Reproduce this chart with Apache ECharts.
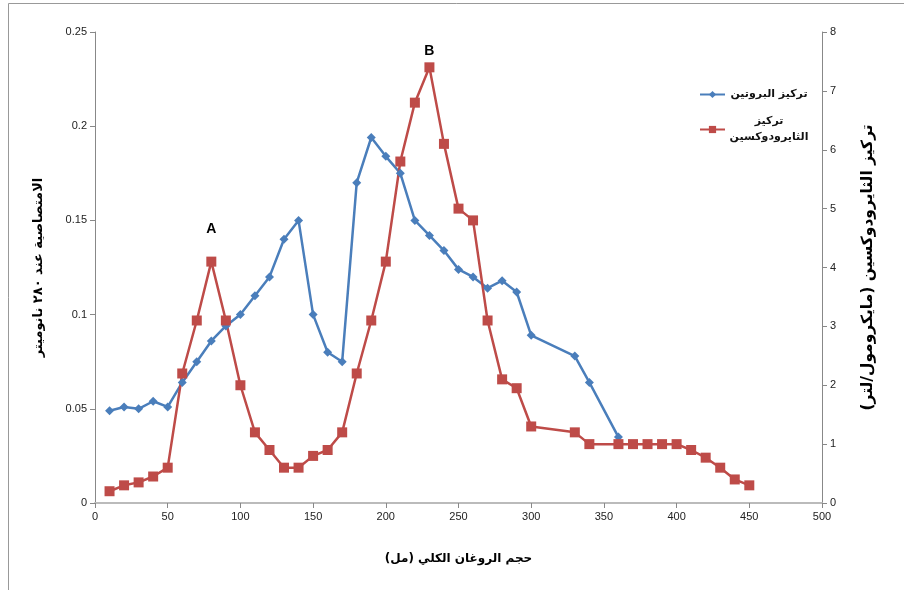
<!DOCTYPE html>
<html>
<head>
    <meta charset="utf-8" />
    <title></title>
    <script src="https://cdn.jsdelivr.net/npm/echarts@6/dist/echarts.min.js"></script>
</head>
<body style="margin:0;background:#fff;">
    <div id="chart" style="width:904px;height:590px;"></div>
    <script>
        // حجم الروغان (مل)
        var proteinVolume = [10, 20, 30, 40, 50, 60, 70, 80, 90, 100, 110, 120, 130, 140, 150, 160, 170, 180, 190, 200,
            210, 220, 230, 240, 250, 260, 270, 280, 290, 300, 330, 340, 360];
        var proteinValues = [0.049, 0.051, 0.050, 0.054, 0.051, 0.064, 0.075, 0.086, 0.094, 0.100, 0.110, 0.120, 0.140, 0.150,
            0.100, 0.080, 0.075, 0.170, 0.194, 0.184, 0.175, 0.150, 0.142, 0.134, 0.124, 0.120, 0.114, 0.118, 0.112,
            0.089, 0.078, 0.064, 0.035];

        var trxVolume = [10, 20, 30, 40, 50, 60, 70, 80, 90, 100, 110, 120, 130, 140, 150, 160, 170, 180, 190, 200,
            210, 220, 230, 240, 250, 260, 270, 280, 290, 300, 330, 340, 360, 370, 380, 390, 400, 410, 420, 430, 440, 450];
        var trxValues = [0.2, 0.3, 0.35, 0.45, 0.6, 2.2, 3.1, 4.1, 3.1, 2.0, 1.2, 0.9, 0.6, 0.6, 0.8, 0.9, 1.2, 2.2, 3.1, 4.1,
            5.8, 6.8, 7.4, 6.1, 5.0, 4.8, 3.1, 2.1, 1.95, 1.3, 1.2, 1.0, 1.0, 1.0, 1.0, 1.0, 1.0, 0.9, 0.77, 0.6, 0.4, 0.3];

        // القمم
        var peakVolume = [80, 230];
        var peakNames = ['A', 'B'];

        var proteinName = 'تركيز البروتين';
        var trxName = 'تركيز\nالثايرودوكسين';

        var arFont = 'DejaVu Sans';
        var numFont = 'Liberation Sans';

        var proteinData = proteinVolume.map(function (v, i) { return [v, proteinValues[i]]; });
        var trxData = trxVolume.map(function (v, i) {
            var k = peakVolume.indexOf(v);
            if (k < 0) return [v, trxValues[i]];
            return {
                value: [v, trxValues[i]],
                label: {
                    show: true, formatter: peakNames[k], position: 'top',
                    distance: k === 0 ? 20 : 4,
                    color: '#000', fontWeight: 'bold', fontSize: 14, fontFamily: numFont
                }
            };
        });

        var myChart = echarts.init(document.getElementById('chart'));
        var axisLabel = { color: '#222', fontSize: 11, fontFamily: numFont };
        var option = {
            animation: false,
            backgroundColor: '#fff',
            graphic: [{
                type: 'rect', left: 6, top: 1,
                shape: { width: 960, height: 640 },
                style: { fill: 'none', stroke: '#999', lineWidth: 1 },
                silent: true
            }],
            grid: { left: 95, right: 82, top: 32, bottom: 87 },
            legend: {
                orient: 'vertical', left: 694, top: 84, itemGap: 16,
                itemWidth: 25, itemHeight: 9,
                data: [proteinName, trxName],
                formatter: function (name) {
                    return name.split('\n').map(function (s) { return '{c|' + s + '}'; }).join('\n');
                },
                textStyle: {
                    fontFamily: arFont, fontSize: 11, fontWeight: 'bold', color: '#111',
                    rich: { c: { width: 78, align: 'center', fontFamily: arFont, fontSize: 11, fontWeight: 'bold', color: '#111', lineHeight: 16 } }
                }
            },
            xAxis: {
                type: 'value', min: 0, max: 500, interval: 50,
                name: 'حجم الروغان الكلي (مل)', nameLocation: 'middle', nameGap: 50,
                nameTextStyle: { fontFamily: arFont, fontSize: 12, fontWeight: 'bold', color: '#000' },
                axisLine: { lineStyle: { color: '#bbb', width: 2 } },
                axisTick: { show: true, length: 5, lineStyle: { color: '#888' } },
                axisLabel: axisLabel,
                splitLine: { show: false }
            },
            yAxis: [{
                type: 'value', min: 0, max: 0.25, interval: 0.05, position: 'left',
                name: 'الامتصاصية عند ٢٨٠ نانوميتر', nameLocation: 'middle', nameGap: 50, nameRotate: 90,
                nameTextStyle: { fontFamily: arFont, fontSize: 13, fontWeight: 'bold', color: '#000' },
                axisLine: { show: true, lineStyle: { color: '#888' } },
                axisTick: { show: true, length: 5, lineStyle: { color: '#888' } },
                axisLabel: axisLabel,
                splitLine: { show: false }
            }, {
                type: 'value', min: 0, max: 8, interval: 1, position: 'right',
                name: 'تركيز الثايرودوكسين (مايكرومول/لتر)', nameLocation: 'middle', nameGap: 38, nameRotate: 90,
                nameTextStyle: { fontFamily: arFont, fontSize: 15.5, fontWeight: 'bold', color: '#000' },
                axisLine: { show: true, lineStyle: { color: '#888' } },
                axisTick: { show: true, length: 5, lineStyle: { color: '#888' } },
                axisLabel: axisLabel,
                splitLine: { show: false }
            }],
            series: [{
                name: proteinName,
                type: 'line',
                yAxisIndex: 0,
                data: proteinData,
                symbol: 'diamond', symbolSize: 9,
                lineStyle: { color: '#4A7EBB', width: 2.5 },
                itemStyle: { color: '#4A7EBB' }
            }, {
                name: trxName,
                type: 'line',
                yAxisIndex: 1,
                data: trxData,
                symbol: 'rect', symbolSize: 10,
                lineStyle: { color: '#BE4B48', width: 2.5 },
                itemStyle: { color: '#BE4B48' }
            }]
        };
        myChart.setOption(option);
    </script>
</body>
</html>
